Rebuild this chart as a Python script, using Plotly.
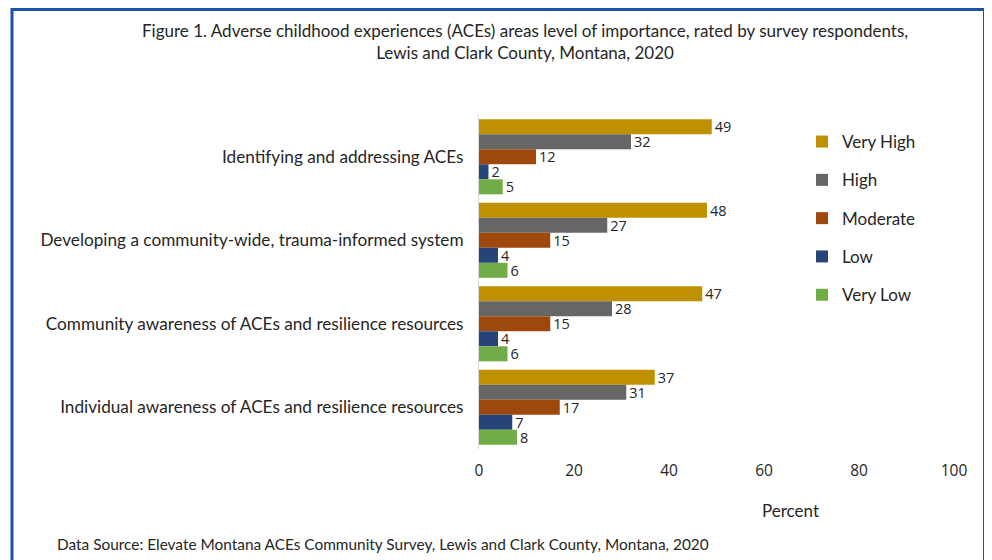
import plotly.graph_objects as go

categories = [
    "Identifying and addressing ACEs",
    "Developing a community-wide, trauma-informed system",
    "Community awareness of ACEs and resilience resources",
    "Individual awareness of ACEs and resilience resources",
]
levels = ["Very High", "High", "Moderate", "Low", "Very Low"]
very_high = [49, 48, 47, 37]
high = [32, 27, 28, 31]
moderate = [12, 15, 15, 17]
low = [2, 4, 4, 7]
very_low = [5, 6, 6, 8]
x_ticks = [0, 20, 40, 60, 80, 100]

series = [very_high, high, moderate, low, very_low]
colors = ["#BF9000", "#666666", "#9E480E", "#264478", "#70AD47"]

FONT = "Lato"
NUMFONT = "Open Sans"
TXT = "#262626"

fig = go.Figure()
for i, (name, vals, col) in enumerate(zip(levels, series, colors)):
    fig.add_trace(go.Bar(
        y=categories, x=vals, name=name, orientation="h",
        marker=dict(color=col, line=dict(width=0)),
        text=[str(v) for v in vals], textposition="outside",
        constraintext="none",
        textfont=dict(family=NUMFONT, size=14.5, color=TXT),
        cliponaxis=False, legendgroup=f"g{i}",
    ))

# page body has an 8px margin: figure drawn at (8, 8) on screen
OFF = 8
W, H = 992 - OFF, 560 - OFF
L, R, T, B = 479 - OFF, 38, 115 - OFF, 111
pw, ph = W - L - R, H - T - B

def px(x):  # reference screen x -> paper
    return (x - OFF - L) / pw

def py(y):  # reference screen y -> paper
    return (H - B - (y - OFF)) / ph

shapes = [
    dict(type="rect", xref="paper", yref="paper",
         x0=px(986.5), x1=px(1000), y0=py(20.5), y1=py(580),
         line=dict(width=0), fillcolor="#62A219", layer="below"),
    dict(type="rect", xref="paper", yref="paper",
         x0=px(12), x1=px(984.5), y0=py(OFF + 1.5), y1=py(580),
         line=dict(width=3, color="#1A52A8"), fillcolor="rgba(0,0,0,0)"),
]

fig.update_layout(
    width=W, height=H,
    margin=dict(l=L, r=R, t=T, b=B, autoexpand=False),
    paper_bgcolor="white", plot_bgcolor="white",
    barmode="group", bargap=0.1, bargroupgap=0.0,
    font=dict(family=FONT, size=15, color=TXT),
    showlegend=True,
    legend=dict(x=px(802), y=py(124), xanchor="left", yanchor="top",
                traceorder="grouped", tracegroupgap=13.2,
                font=dict(family=FONT, size=17, color=TXT),
                itemwidth=30, bgcolor="rgba(0,0,0,0)"),
    xaxis=dict(range=[0, 100], tickvals=x_ticks, showgrid=False, zeroline=False,
               showline=False, ticks="", ticklabelstandoff=10,
               tickfont=dict(family=NUMFONT, size=15.5, color=TXT)),
    yaxis=dict(autorange="reversed", showgrid=False, zeroline=False,
               showline=True, linecolor="#D9D9D9", linewidth=1, ticks="",
               ticklabelstandoff=11,
               tickfont=dict(family=FONT, size=17.2, color=TXT)),
    shapes=shapes,
    annotations=[
        dict(text="Figure 1. Adverse childhood experiences (ACEs) areas level of importance, rated by survey respondents,<br>Lewis and Clark County, Montana, 2020",
             xref="paper", yref="paper", x=px(524.5), y=py(41.5), xanchor="center", yanchor="middle",
             showarrow=False, font=dict(family=FONT, size=17, color=TXT), align="center"),
        dict(text="Percent", xref="paper", yref="paper", x=px(790), y=py(510),
             xanchor="center", yanchor="middle", showarrow=False,
             font=dict(family=FONT, size=17, color=TXT)),
        dict(text="Data Source: Elevate Montana ACEs Community Survey, Lewis and Clark County, Montana, 2020",
             xref="paper", yref="paper", x=px(55), y=py(544), xanchor="left", yanchor="middle",
             showarrow=False, font=dict(family=FONT, size=15.4, color=TXT)),
    ],
)

fig.write_html("out.html")
